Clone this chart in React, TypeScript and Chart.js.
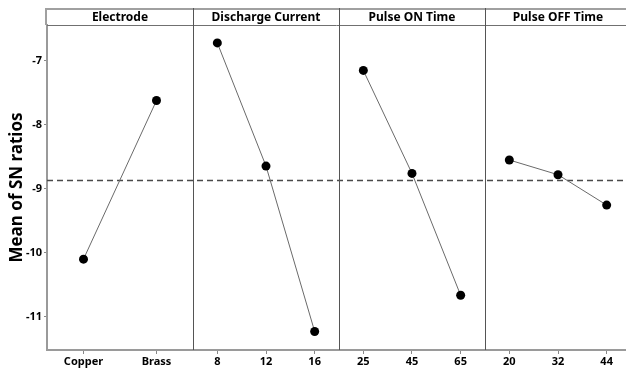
import React, { useEffect, useRef } from "react";
import { Chart, registerables } from "chart.js";

Chart.register(...registerables);

const factorNames = ["Electrode", "Discharge Current", "Pulse ON Time", "Pulse OFF Time"];
const electrodeLevels = ["Copper", "Brass"];
const electrodeMeans = [-10.1, -7.62];
const dischargeLevels = ["8", "12", "16"];
const dischargeMeans = [-6.72, -8.645, -11.23];
const pulseOnLevels = ["25", "45", "65"];
const pulseOnMeans = [-7.15, -8.76, -10.665];
const pulseOffLevels = ["20", "32", "44"];
const pulseOffMeans = [-8.55, -8.78, -9.255];
const overallMean = -8.87;
const yTickValues = [-11, -10, -9, -8, -7];

const FONT = "'Noto Sans', 'Open Sans', sans-serif";

export default function App() {
  const ref = useRef<HTMLCanvasElement | null>(null);

  useEffect(() => {
    document.body.style.margin = "0";
    const canvas = ref.current;
    if (!canvas) return;

    const levels = [electrodeLevels, dischargeLevels, pulseOnLevels, pulseOffLevels];
    const means = [electrodeMeans, dischargeMeans, pulseOnMeans, pulseOffMeans];
    const xMax = 579 / 146;

    const tickPos: number[] = [];
    const tickLab: string[] = [];
    const datasets: any[] = [];
    levels.forEach((lv, i) => {
      const pts = lv.map((l, j) => {
        const x = i + (j + 0.5) / lv.length;
        tickPos.push(x);
        tickLab.push(l);
        return { x, y: means[i][j] };
      });
      datasets.push({
        data: pts,
        borderColor: "#6a6a6a",
        borderWidth: 1,
        pointRadius: 4.5,
        pointBackgroundColor: "#000",
        pointBorderColor: "#000",
        pointBorderWidth: 0,
        showLine: true,
        order: 1,
      });
    });
    datasets.push({
      data: [
        { x: 0, y: overallMean },
        { x: xMax, y: overallMean },
      ],
      borderColor: "#4a4a4a",
      borderWidth: 1.6,
      borderDash: [6, 4],
      pointRadius: 0,
      showLine: true,
      order: 2,
    });

    const frame = {
      id: "frame",
      afterDatasetsDraw(chart: any) {
        const { ctx, chartArea } = chart;
        const xs = chart.scales.x;
        const top = 8;
        ctx.save();
        ctx.strokeStyle = "#a0a0a0";
        ctx.lineWidth = 2;
        ctx.beginPath();
        ctx.moveTo(chartArea.left - 1, top + 1);
        ctx.lineTo(chartArea.right, top + 1);
        ctx.stroke();
        ctx.beginPath();
        ctx.moveTo(chartArea.left - 1, top);
        ctx.lineTo(chartArea.left - 1, chartArea.top);
        ctx.stroke();
        ctx.strokeStyle = "#707070";
        ctx.lineWidth = 1;
        ctx.beginPath();
        ctx.moveTo(chartArea.left, chartArea.top + 0.5);
        ctx.lineTo(chartArea.right, chartArea.top + 0.5);
        ctx.stroke();
        ctx.strokeStyle = "#555";
        for (let i = 1; i < 4; i++) {
          const px = Math.round(xs.getPixelForValue(i)) + 0.5;
          ctx.beginPath();
          ctx.moveTo(px, top);
          ctx.lineTo(px, chartArea.bottom);
          ctx.stroke();
        }
        ctx.fillStyle = "#000";
        ctx.font = `bold 12px ${FONT}`;
        ctx.textAlign = "center";
        ctx.textBaseline = "middle";
        factorNames.forEach((n, i) => {
          const cx = (xs.getPixelForValue(i) + xs.getPixelForValue(i + 1)) / 2;
          ctx.fillText(n, cx, (top + chartArea.top) / 2 + 1);
        });
        ctx.restore();
      },
    };

    const chart = new Chart(canvas, {
      type: "scatter",
      data: { datasets },
      plugins: [frame],
      options: {
        animation: false,
        responsive: false,
        layout: { autoPadding: false, padding: { top: 25, right: 0, left: 0, bottom: 0 } },
        plugins: { legend: { display: false }, tooltip: { enabled: false } },
        scales: {
          x: {
            type: "linear",
            min: 0,
            max: xMax,
            afterBuildTicks: (s: any) => {
              s.ticks = tickPos.map((v) => ({ value: v }));
            },
            afterFit: (s: any) => {
              s.height = 20;
              s.paddingRight = 0;
              s.paddingLeft = 0;
            },
            ticks: {
              autoSkip: false,
              maxRotation: 0,
              padding: 1,
              color: "#000",
              font: { family: FONT, size: 11, weight: "bold" },
              callback: (v: any) => {
                const idx = tickPos.findIndex((p) => Math.abs(p - v) < 1e-6);
                return idx >= 0 ? tickLab[idx] : "";
              },
            },
            grid: { drawOnChartArea: false, drawTicks: true, tickLength: 4, color: "#888" },
            border: { display: true, color: "#9a9a9a", width: 2 },
          },
          y: {
            min: -11.52,
            max: -6.44,
            afterBuildTicks: (s: any) => {
              s.ticks = yTickValues.map((v) => ({ value: v }));
            },
            afterFit: (s: any) => {
              s.width = 47;
              s.paddingTop = 0;
              s.paddingBottom = 0;
            },
            ticks: {
              padding: 2,
              color: "#000",
              font: { family: FONT, size: 11, weight: "bold" },
              callback: (v: any) => String(v),
            },
            title: {
              display: true,
              text: "Mean of SN ratios",
              color: "#000",
              font: { family: FONT, size: 17, weight: "bold" },
              padding: { top: 7, bottom: 0 },
            },
            grid: { drawOnChartArea: false, drawTicks: true, tickLength: 3, color: "#888" },
            border: { display: true, color: "#9a9a9a", width: 2 },
          },
        },
      },
    });
    return () => chart.destroy();
  }, []);

  return <canvas ref={ref} width={626} height={370} style={{ display: "block", width: 626, height: 370 }} />;
}
